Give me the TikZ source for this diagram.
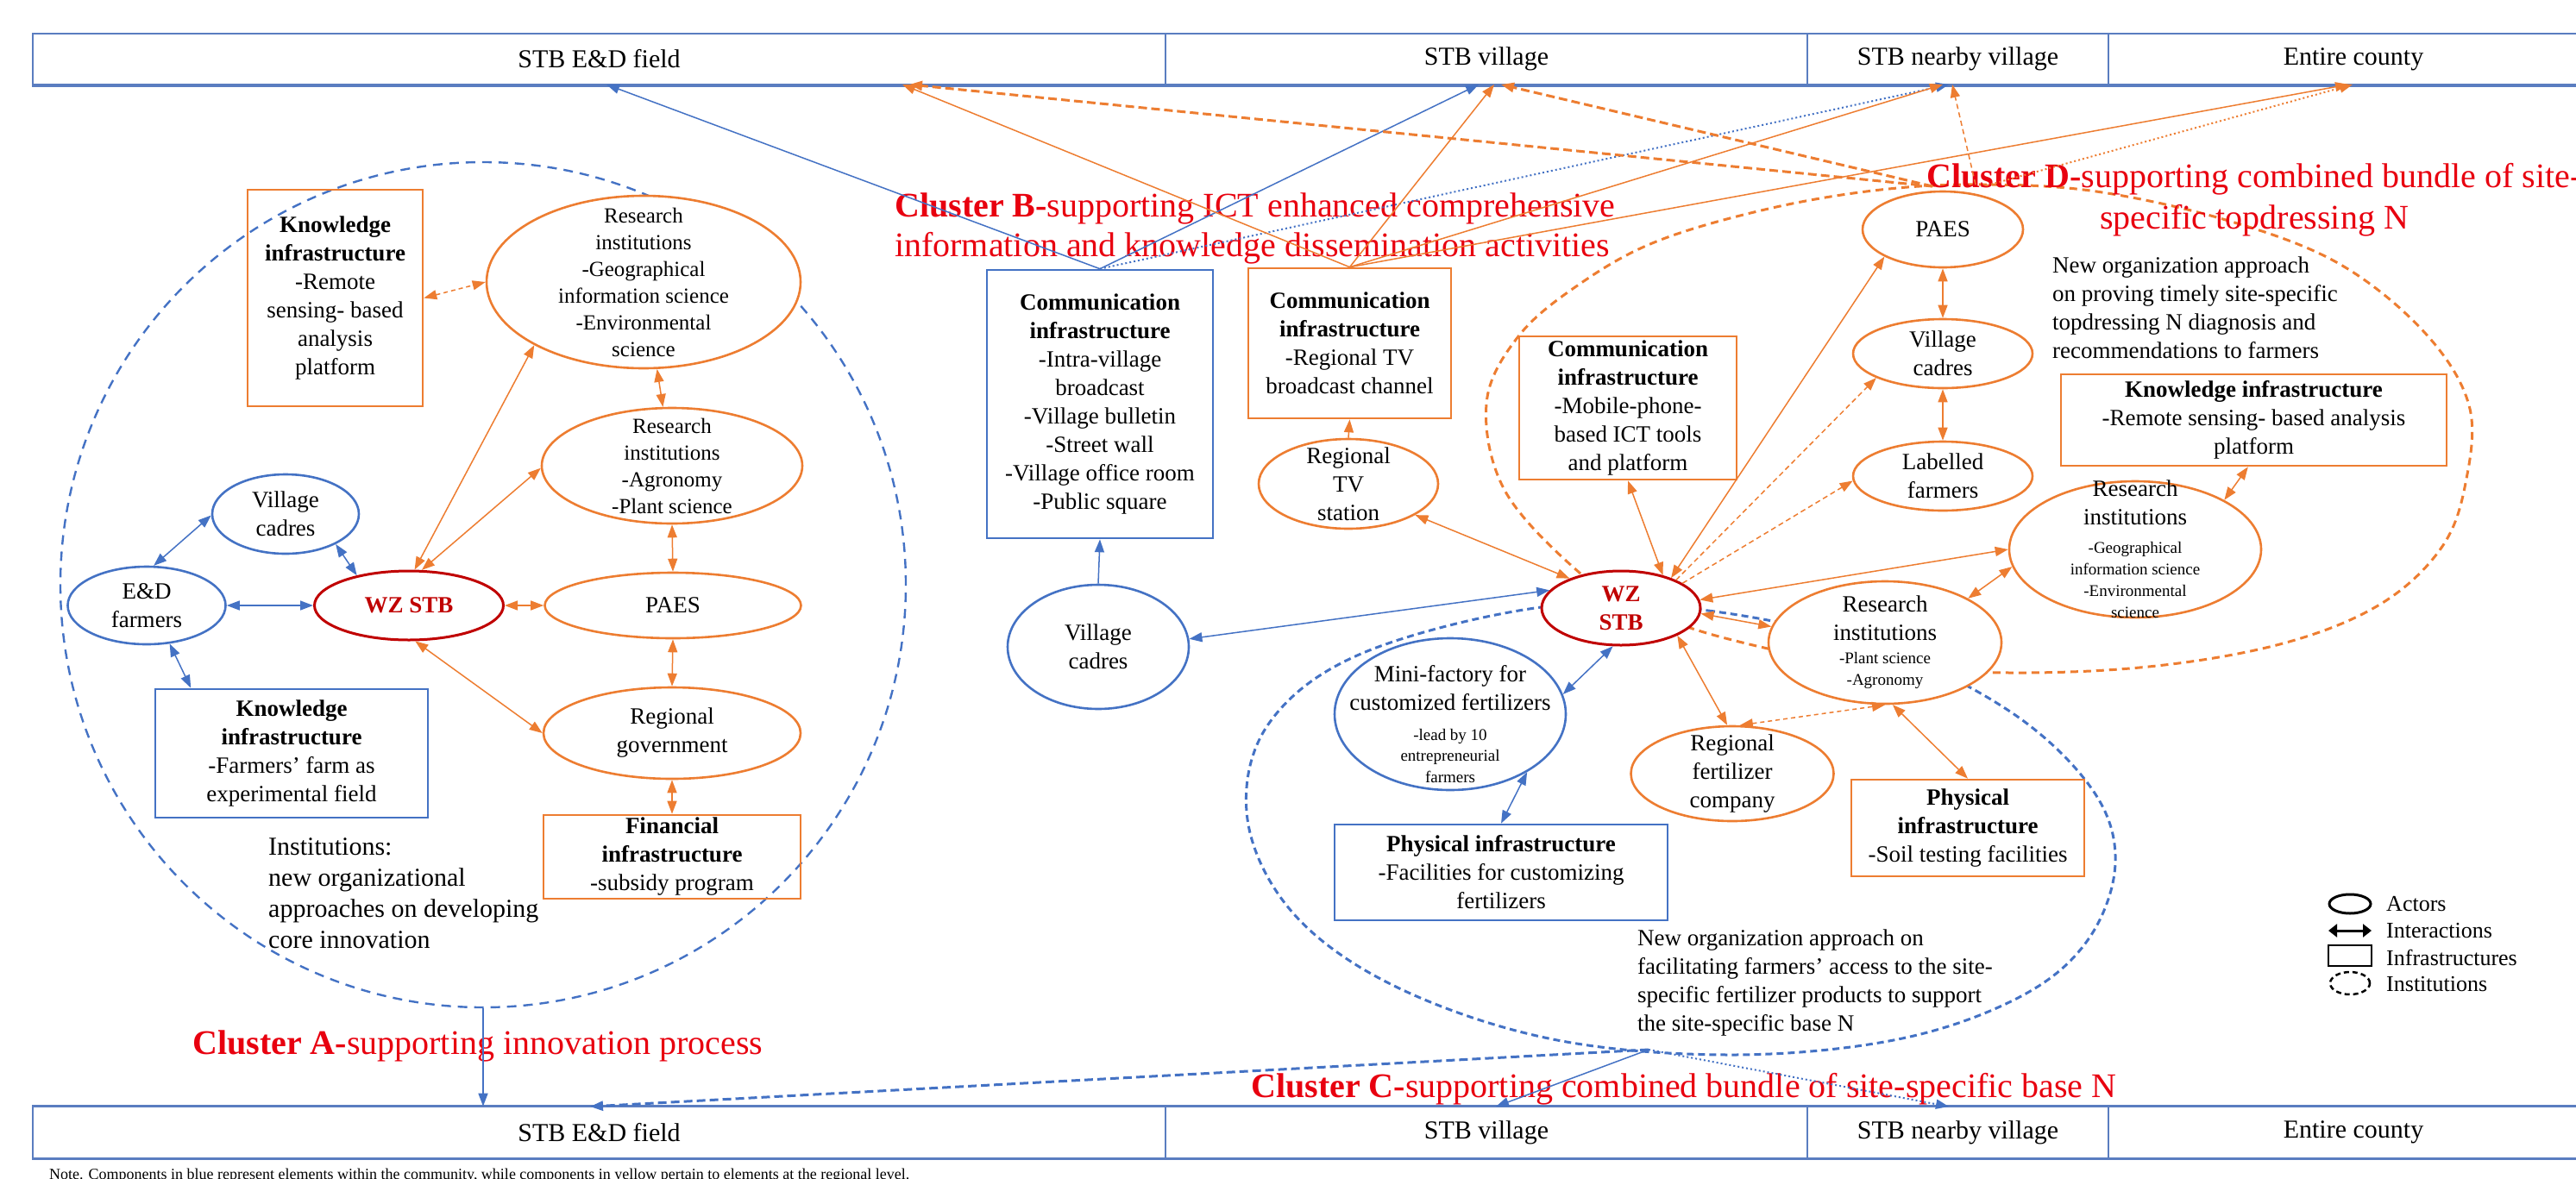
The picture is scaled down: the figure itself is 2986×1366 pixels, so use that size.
\documentclass[tikz,border=0pt]{standalone}
\usepackage{fontspec}
\setmainfont{Liberation Serif}
\usetikzlibrary{shapes.geometric,arrows.meta}

\definecolor{bluC}{HTML}{4472C4}
\definecolor{orgC}{HTML}{ED7D31}
\definecolor{redC}{HTML}{E8000F}
\definecolor{wzC}{HTML}{C00000}
\definecolor{barC}{HTML}{5A7DC0}

\newcommand\fntNode{\fontsize{27pt}{33pt}\selectfont}
\newcommand\fntRA{\fontsize{25pt}{31pt}\selectfont}
\newcommand\fntSmall{\fontsize{19pt}{23pt}\selectfont}
\newcommand\fntBar{\fontsize{30pt}{36pt}\selectfont}
\newcommand\fntClu{\fontsize{40pt}{46pt}\selectfont}
\newcommand\fntCluD{\fontsize{40pt}{48pt}\selectfont}
\newcommand\fntInstA{\fontsize{30pt}{36pt}\selectfont}
\newcommand\fntInst{\fontsize{27pt}{33pt}\selectfont}
\newcommand\fntLeg{\fontsize{26pt}{31pt}\selectfont}
\newcommand\fntNote{\fontsize{18pt}{22pt}\selectfont}

\tikzset{
  sz/.style 2 args={minimum width=#1pt, minimum height=#2pt},
  actor/.style={ellipse, line width=2.6pt, fill=white, inner sep=0pt},
  actO/.style={actor, draw=orgC},
  actB/.style={actor, draw=bluC},
  actR/.style={actor, draw=wzC, line width=3pt},
  txt/.style={align=center, font=\fntNode, inner sep=0pt},
  infra/.style={rectangle, line width=2.6pt, inner sep=0pt, align=center, font=\fntNode},
  infO/.style={infra, draw=orgC},
  infB/.style={infra, draw=bluC},
  link/.style={line width=1.5pt, {Triangle[length=15pt,width=11pt]}-{Triangle[length=15pt,width=11pt]}},
  lkO/.style={link, draw=orgC},
  lkB/.style={link, draw=bluC},
  one/.style={-{Triangle[length=15pt,width=11pt]}},
  dashA/.style={line width=3pt, dash pattern=on 10pt off 5pt},
  dashB/.style={dash pattern=on 6pt off 4pt},
  dashC/.style={dash pattern=on 5pt off 4pt},
  dotln/.style={line width=2pt, dash pattern=on 2pt off 3pt},
  barcell/.style={draw=barC, line width=1.6pt, minimum height=59pt, inner sep=0pt, font=\fntBar},
  clu/.style={font=\fntClu, text=redC, inner sep=0pt},
  inst/.style={anchor=west, align=left, inner sep=0pt},
  legtxt/.style={anchor=west, font=\fntLeg, inner sep=0pt},
}

\begin{document}
\begin{tikzpicture}[x=1pt,y=-1pt]
\useasboundingbox (0,0) rectangle (2986,1366);

% ---- scale bars (top and bottom) ----
\node[barcell, minimum width=1313pt] (tED) at (694.5,68.5) {STB E\&D field};
\node[barcell, minimum width=744pt] (tV) at (1723,68.5) {STB village};
\node[barcell, minimum width=349pt] (tNV) at (2269.5,68.5) {STB nearby village};
\node[barcell, minimum width=568pt] (tEC) at (2728,68.5) {Entire county};
\draw[barC, line width=3.5pt] (tED.south west) -- (tEC.south east);

\node[barcell, minimum width=1313pt] (bED) at (694.5,1313) {STB E\&D field};
\node[barcell, minimum width=744pt] (bV) at (1723,1313) {STB village};
\node[barcell, minimum width=349pt] (bNV) at (2269.5,1313) {STB nearby village};
\node[barcell, minimum width=568pt] (bEC) at (2728,1313) {Entire county};
\draw[barC, line width=3pt] (bED.north west) -- (bEC.north east);
\draw[barC, line width=3.5pt] (bED.south west) -- (bEC.south east);

% arrow targets on the bars
\coordinate (uE1) at (703,98);
\coordinate (uE2) at (1046,98);
\coordinate (uE3) at (1054,98);
\coordinate (uV1) at (1714,98);
\coordinate (uV2) at (1732,98);
\coordinate (uV3) at (1740,98);
\coordinate (uN1) at (2259,98);
\coordinate (uN2) at (2252,98);
\coordinate (uN3) at (2263,98);
\coordinate (uC1) at (2722,98);
\coordinate (uC2) at (2727,98);
\coordinate (lE2) at (684,1283);
\coordinate (lV1) at (1734,1283);
\coordinate (lN1) at (2259,1283);

% ---- institutional boundaries ----
\node[ellipse, draw=bluC, line width=2.4pt, dash pattern=on 11pt off 8pt, sz={980}{980}, inner sep=0pt] (clA) at (560,678) {};

\draw[bluC, line width=3pt, dash pattern=on 8pt off 5pt]
  plot[smooth cycle, tension=0.6] coordinates {
  (1794,703) (1980,708) (2180,752) (2330,825) (2425,915) (2452,1000)
  (2420,1090) (2341,1156) (2200,1205) (2007,1223) (1800,1205) (1620,1145)
  (1500,1060) (1446,950) (1470,840) (1580,757)};
\coordinate (cB) at (1911,1217);

\draw[orgC, line width=3pt, dash pattern=on 9pt off 6pt]
  plot[smooth cycle, tension=0.6] coordinates {
  (1900,705) (1832,665) (1745,570) (1723,468) (1760,390) (1830,330)
  (1920,280) (2050,242) (2180,220) (2300,214) (2430,222) (2580,255)
  (2710,305) (2810,385) (2862,470) (2858,560) (2830,635) (2760,700)
  (2650,745) (2500,772) (2330,780) (2150,770) (2000,740)};
\coordinate (dT1) at (2240,216);
\coordinate (dT2) at (2290,214);
\coordinate (dT3) at (2303,215);

% ---- cluster A ----
\node[infO, sz={203}{251}] (kiA) at (388.5,345.5)
  {\textbf{Knowledge}\\\textbf{infrastructure}\\-Remote\\sensing- based\\analysis\\platform};
\node[actO, sz={364}{200}, label={[txt,font=\fntRA]center:{Research\\institutions\\-Geographical\\information science\\-Environmental\\science}}] (ri1A) at (746,327) {};
\node[actO, sz={302}{134}, label={[txt,font=\fntRA]center:{Research\\institutions\\-Agronomy\\-Plant science}}] (ri2A) at (779,540) {};
\node[actO, sz={297}{76}, label={[txt]center:PAES}] (paesA) at (780,702) {};
\node[actR, sz={219}{80}, label={[txt,text=wzC,font=\fntNode\bfseries]center:WZ STB}] (wzA) at (474,702) {};
\node[actB, sz={183}{90}, label={[txt]center:{E\&D\\farmers}}] (edA) at (170,702) {};
\node[actB, sz={170}{92}, label={[txt]center:{Village\\cadres}}] (vcA) at (331,596) {};
\node[infB, sz={316}{149}] (kiBA) at (338,873.5)
  {\textbf{Knowledge}\\\textbf{infrastructure}\\-Farmers’ farm as\\experimental field};
\node[actO, sz={298}{106}, label={[txt]center:{Regional\\government}}] (rgA) at (779,850) {};
\node[infO, sz={298}{97}] (finA) at (779,993.5)
  {\textbf{Financial}\\\textbf{infrastructure}\\-subsidy program};

% ---- cluster B ----
\node[infB, sz={262}{311}] (commB) at (1275,468.5)
  {\textbf{Communication}\\\textbf{infrastructure}\\-Intra-village\\broadcast\\-Village bulletin\\-Street wall\\-Village office room\\-Public square};
\node[infO, sz={235}{174}] (commO) at (1564.5,398)
  {\textbf{Communication}\\\textbf{infrastructure}\\-Regional TV\\broadcast channel};
\node[actO, sz={208}{104}, label={[txt]center:{Regional\\TV\\station}}] (rtv) at (1563,561) {};
\node[actB, sz={210}{144}, label={[txt]center:{Village\\cadres}}] (vcB) at (1273,750) {};

% ---- clusters C and D ----
\node[actR, sz={184}{86}, label={[txt,text=wzC,font=\fntNode\bfseries]center:{WZ\\STB}}] (wzD) at (1879,705) {};
\node[infO, sz={252}{166}] (commM) at (1887,473)
  {\textbf{Communication}\\\textbf{infrastructure}\\-Mobile-phone-\\based ICT tools\\and platform};
\node[actO, sz={186}{88}, label={[txt]center:PAES}] (paesD) at (2252,266) {};
\node[actO, sz={208}{80}, label={[txt]center:{Village\\cadres}}] (vcD) at (2252,410) {};
\node[actO, sz={208}{80}, label={[txt]center:{Labelled\\farmers}}] (lfD) at (2252,552) {};
\node[infO, sz={447}{106}] (kiD) at (2612.5,487)
  {\textbf{Knowledge infrastructure}\\-Remote sensing- based analysis\\platform};
\node[actO, sz={292}{158}, label={[txt]center:{Research\\institutions\\{\fntSmall -Geographical}\\[-8pt]{\fntSmall information science}\\[-8pt]{\fntSmall -Environmental}\\[-8pt]{\fntSmall science}}}] (riG) at (2475,637) {};
\node[actO, sz={270}{142}, label={[txt]center:{Research\\institutions\\[-6pt]{\fntSmall -Plant science}\\[-8pt]{\fntSmall -Agronomy}}}] (riP) at (2185,745) {};
\node[actB, sz={268}{176}, label={[txt,yshift=-12pt]center:{Mini-factory for\\customized fertilizers\\[2pt]{\fntSmall -lead by 10}\\[-9pt]{\fntSmall entrepreneurial}\\[-8pt]{\fntSmall farmers}}}] (mini) at (1681,828) {};
\node[infB, sz={386}{111}] (physB) at (1740,1011.5)
  {\textbf{Physical infrastructure}\\-Facilities for customizing\\fertilizers};
\node[actO, sz={235}{110}, label={[txt]center:{Regional\\fertilizer\\company}}] (rfc) at (2008,897) {};
\node[infO, sz={270}{112}] (physO) at (2281,960)
  {\textbf{Physical}\\\textbf{infrastructure}\\-Soil testing facilities};

% ---- cluster titles and institution notes ----
\node[clu, anchor=west] (labA) at (223,1213) {\textbf{Cluster A-}supporting innovation process};
\node[clu, anchor=west, align=left] (labB) at (1037,265)
  {\textbf{Cluster B-}supporting ICT enhanced comprehensive\\information and knowledge dissemination activities};
\node[clu, anchor=west] (labC) at (1450,1263) {\textbf{Cluster C-}supporting combined bundle of site-specific base N};
\node[clu, align=center, font=\fntCluD] (labD) at (2613,232)
  {\textbf{Cluster D-}supporting combined bundle of site-\\specific topdressing N};

\node[inst, font=\fntInstA] (instA) at (311,1036)
  {Institutions:\\new organizational\\approaches on developing\\core innovation};
\node[inst, font=\fntInst] (instD) at (2379,357)
  {New organization approach\\on proving timely site-specific\\topdressing N diagnosis and\\recommendations to farmers};
\node[inst, font=\fntInst] (instC) at (1898,1139)
  {New organization approach on\\facilitating farmers’ access to the site-\\specific fertilizer products to support\\the site-specific base N};

% ---- interactions, cluster A ----
\draw[lkO, dashC] (kiA.east) -- (ri1A.west);
\draw[lkO] (ri1A) -- (ri2A);
\draw[lkO] (ri1A.210) -- (wzA.81);
\draw[lkO] (ri2A.181) -- (wzA.70);
\draw[lkO] (wzA.east) -- (paesA.west);
\draw[lkO] (paesA.north) -- (ri2A.south);
\draw[lkB] (edA.east) -- (wzA.west);
\draw[lkB] (edA.80) -- (vcA.181);
\draw[lkB] (vcA.-31) -- (wzA.150);
\draw[lkB] (edA.-59) -- (kiBA.147);
\draw[lkO] (wzA.-80) -- (rgA.west);
\draw[lkO] (paesA.south) -- (rgA.north);
\draw[lkO] (rgA.south) -- (finA.north);

% ---- interactions, cluster B ----
\draw[lkB, one] (vcB.north) -- (commB.south);
\draw[lkO, one] (rtv.north) -- (commO.south);
\draw[lkO] (wzD.150) -- (rtv.-25);
\draw[lkB] (wzD.166) -- (vcB.5);

% ---- interactions, clusters C and D ----
\draw[lkO] (wzD.38) -- (commM.south);
\draw[lkO] (wzD.31) -- (paesD.205);
\draw[lkO, one, dashB] (wzD.27) -- (vcD.200);
\draw[lkO, one, dashB] (wzD.22) -- (lfD.183);
\draw[lkO] (paesD.south) -- (vcD.north);
\draw[lkO] (vcD.south) -- (lfD.north);
\draw[lkO] (wzD.6) -- (riG.180);
\draw[lkO] (riG.188) -- (riP.28);
\draw[lkO] (riG.29) -- (kiD.-97);
\draw[lkO] (wzD.-4) -- (riP.172);
\draw[lkB] (wzD.-102) -- (mini.10);
\draw[lkB] (mini.-37) -- (physB.north);
\draw[lkO] (wzD.-26) -- (rfc.96);
\draw[lkO, dashC] (rfc.81) -- (riP.-90);
\draw[lkO] (riP.-83) -- (physO.north);

% ---- links to the scale bars ----
\draw[lkB, one] (commB.north) -- (uE1);
\draw[lkB, one] (commB.north) -- (uV1);
\draw[lkB, one, dotln] (commB.north) -- (uN1);
\draw[lkO, one] (commO.north) -- (uE2);
\draw[lkO, one] (commO.north) -- (uV2);
\draw[lkO, one] (commO.north) -- (uN2);
\draw[lkO, one] (commO.north) -- (uC1);
\draw[lkO, one, dashA] (dT1) -- (uE3);
\draw[lkO, one, dashA] (dT1) -- (uV3);
\draw[lkO, one, dashB] (dT2) -- (uN3);
\draw[lkO, one, dotln] (dT3) -- (uC2);

\draw[lkB, one] (clA.south) -- (clA.south |- bED.north);
\draw[lkB, one, dashA] (cB) -- (lE2);
\draw[lkB, one] (cB) -- (lV1);
\draw[lkB, one, dotln] (cB) -- (lN1);

% ---- legend ----
\node[ellipse, draw=black, line width=3pt, sz={48}{22}, inner sep=0pt] (legA) at (2724,1048) {};
\coordinate (legI1) at (2699,1079);
\coordinate (legI2) at (2749,1079);
\draw[line width=3pt, {Triangle[length=10pt,width=15pt]}-{Triangle[length=10pt,width=15pt]}] (legI1) -- (legI2);
\node[rectangle, draw=black, line width=2.5pt, sz={50}{24}, inner sep=0pt] (legR) at (2724,1108) {};
\node[ellipse, draw=black, line width=2.5pt, dash pattern=on 6pt off 4pt, sz={46}{26}, inner sep=0pt] (legC) at (2724,1140) {};
\node[legtxt] (legAt) at (2766,1048) {Actors};
\node[legtxt] (legIt) at (2766,1079) {Interactions};
\node[legtxt] (legRt) at (2766,1110) {Infrastructures};
\node[legtxt] (legCt) at (2766,1141) {Institutions};

% ---- footnote ----
\node[anchor=base west, font=\fntNote, inner sep=0pt] (note) at (57,1367)
  {Note. Components in blue represent elements within the community, while components in yellow pertain to elements at the regional level.};
\end{tikzpicture}
\end{document}
